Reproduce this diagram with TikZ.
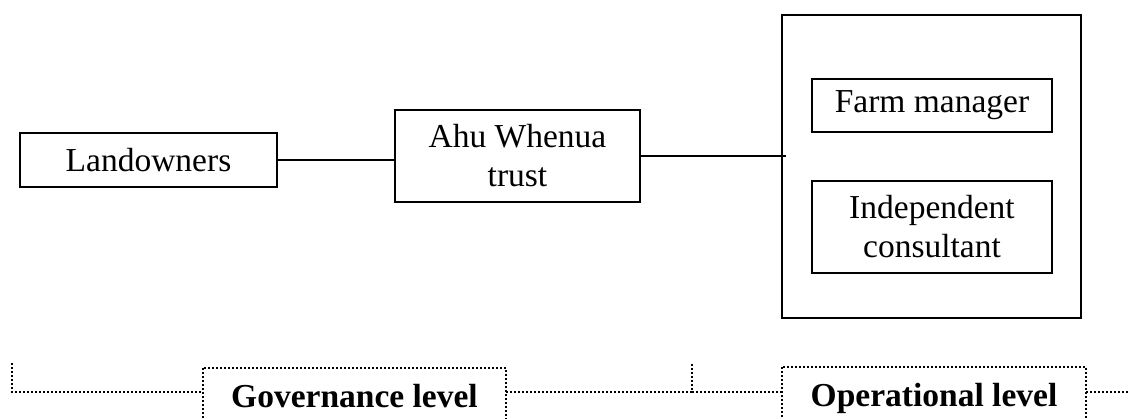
\documentclass[tikz,border=0pt]{standalone}
\usepackage{fontspec}
\setmainfont{Liberation Serif}
\usetikzlibrary{calc}
\begin{document}
\begin{tikzpicture}[x=1pt,y=-1pt,
  box/.style={draw,line width=1.6pt,rectangle,inner sep=0pt,align=center,
    font=\fontsize{33.5}{39}\selectfont},
  wire/.style={line width=1.6pt},
  dots/.style={line width=2.2pt,dash pattern=on 1.8pt off 2.2pt},
  levelbox/.style={rectangle,inner sep=0pt,align=center,
    text height=25pt,text depth=0pt,
    font=\fontsize{33.5}{39}\selectfont\bfseries}]
\useasboundingbox (0,0) rectangle (1128,419);
\clip (0,0) rectangle (1128,419);

% governance chain
\node[box,minimum width=257pt,minimum height=54pt] (land) at (148.5,160) {Landowners};
\node[box,minimum width=245pt,minimum height=92pt] (trust) at (517.5,156) {Ahu Whenua\\trust};
\node[box,minimum width=299pt,minimum height=303pt] (ops) at (931.5,166.5) {};
\node[box,minimum width=240pt,minimum height=53pt] (farm) at (932,105.5) {Farm manager};
\node[box,minimum width=240pt,minimum height=92pt] (cons) at (932,227) {Independent\\consultant};

\draw[wire] (land.east) -- (land.east -| trust.west);
\draw[wire] (trust.east) -- ($(trust.east -| ops.west)+(5,0)$);

% level brackets
\node[levelbox,minimum width=303pt,minimum height=54pt] (gov) at (354.5,395) {Governance level};
\node[levelbox,minimum width=304pt,minimum height=54pt] (opl) at (934,394) {Operational level};
\coordinate (lstart) at (12,363);
\coordinate (mid) at (692,364);
\coordinate (rend) at (1128,392);

\draw[dots] (gov.south west) -- (gov.north west) -- (gov.north east) -- (gov.south east);
\draw[dots] (opl.south west) -- (opl.north west) -- (opl.north east) -- (opl.south east);
\draw[dots] (lstart) |- (gov.west |- 0,392);
\draw[dots] (gov.east |- 0,392) -- (mid |- 0,392) -- (mid);
\draw[dots] (mid |- 0,392) -- (opl.west |- 0,392);
\draw[dots] (opl.east |- 0,392) -- (rend);
\end{tikzpicture}
\end{document}
